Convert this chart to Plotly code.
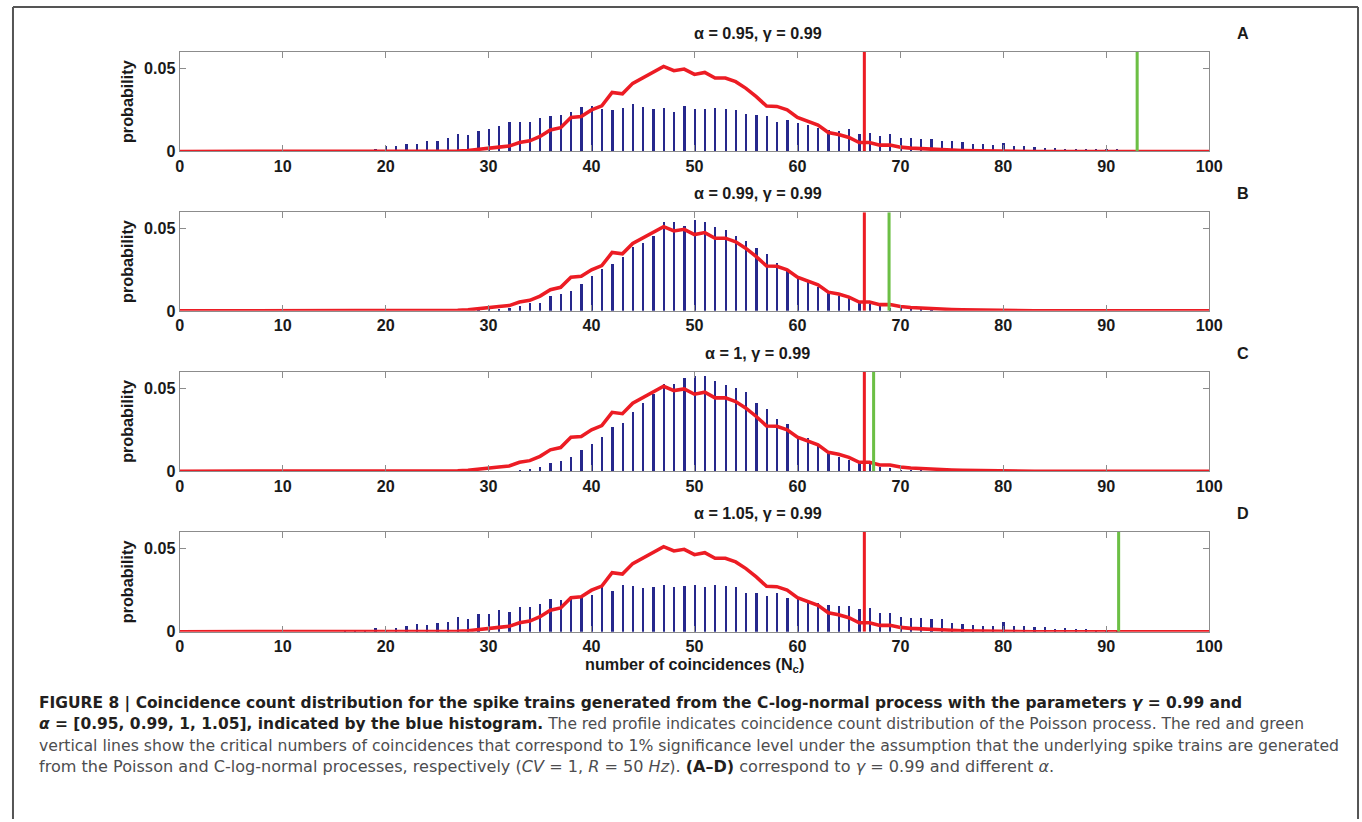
import plotly.graph_objects as go

# Reference canvas (all positions below are in reference pixels)
REF_W, REF_H = 1362, 822
# Figure size in CSS pixels (the captured page is slightly larger than the reference
# canvas and is scaled down to 1362x822, so the figure is drawn at that size)
W, H = 1378, 828
S = W / REF_W  # scale for fonts / line widths


def px(x):
    return x / REF_W


def py(y):
    return 1 - y / REF_H


# ---------------- data ----------------
nc_poisson = list(range(25, 83))
p_poisson = [0.0001, 0.0002, 0.0003, 0.0006, 0.0014, 0.002, 0.0026, 0.0032, 0.0054, 0.0064,
             0.009, 0.0129, 0.0143, 0.0205, 0.021, 0.025, 0.0275, 0.0355, 0.0347, 0.041,
             0.0446, 0.048, 0.0512, 0.0486, 0.0496, 0.0464, 0.0476, 0.0442, 0.0442, 0.042,
             0.038, 0.033, 0.0273, 0.0271, 0.025, 0.0205, 0.018, 0.0159, 0.0114, 0.0102,
             0.0084, 0.0054, 0.0054, 0.0038, 0.0038, 0.0026, 0.002, 0.0016, 0.0012, 0.0008,
             0.0008, 0.0006, 0.0005, 0.0004, 0.0003, 0.0002, 0.0002, 0.0001]

nc_a = list(range(17, 94))
p_a = [0.0003, 0.0005, 0.0018, 0.0034, 0.0032, 0.0046, 0.0046, 0.0062, 0.0066, 0.0084,
       0.0104, 0.01, 0.0124, 0.0135, 0.0155, 0.0177, 0.0179, 0.018, 0.0205, 0.0217,
       0.0223, 0.024, 0.0269, 0.0277, 0.0259, 0.025, 0.0265, 0.0289, 0.0267, 0.0259,
       0.0261, 0.0241, 0.0277, 0.0259, 0.0259, 0.0265, 0.0259, 0.0251, 0.0225, 0.0219,
       0.0213, 0.0181, 0.0189, 0.0171, 0.0161, 0.0145, 0.0133, 0.0122, 0.0135, 0.0108,
       0.0114, 0.0094, 0.0104, 0.0084, 0.0084, 0.0074, 0.0074, 0.0064, 0.0064, 0.0056,
       0.0046, 0.0044, 0.0042, 0.0054, 0.0034, 0.0034, 0.0028, 0.002, 0.002, 0.0018,
       0.0018, 0.0018, 0.0014, 0.0014, 0.0014, 0.001, 0.0005]

nc_b = list(range(29, 74))
p_b = [0.0002, 0.0004, 0.0012, 0.0014, 0.0028, 0.0044, 0.0048, 0.0088, 0.0104, 0.0118,
       0.016, 0.0209, 0.0251, 0.0283, 0.0329, 0.0388, 0.0414, 0.0456, 0.054, 0.054,
       0.0516, 0.0552, 0.054, 0.051, 0.0492, 0.0456, 0.0424, 0.038, 0.0345, 0.0289,
       0.0249, 0.0205, 0.0181, 0.0143, 0.0112, 0.009, 0.0074, 0.0054, 0.0038, 0.0028,
       0.0018, 0.0014, 0.001, 0.0006, 0.0003]

nc_c = list(range(31, 73))
p_c = [0.0001, 0.0002, 0.0006, 0.0014, 0.0028, 0.005, 0.0062, 0.009, 0.013, 0.0169,
       0.0209, 0.0269, 0.0293, 0.036, 0.0412, 0.0466, 0.0525, 0.053, 0.0565, 0.0575,
       0.0577, 0.0546, 0.0522, 0.0502, 0.0478, 0.0415, 0.0375, 0.0315, 0.0286, 0.0214,
       0.02, 0.0155, 0.0115, 0.009, 0.007, 0.0054, 0.0044, 0.003, 0.002, 0.0012,
       0.0008, 0.0004]

nc_d = list(range(16, 92))
p_d = [0.0004, 0.0004, 0.0005, 0.002, 0.0012, 0.0022, 0.0032, 0.0044, 0.004, 0.0054,
       0.006, 0.009, 0.0076, 0.0104, 0.0108, 0.0128, 0.012, 0.0146, 0.015, 0.0168,
       0.0194, 0.0192, 0.021, 0.021, 0.0222, 0.0266, 0.0246, 0.0278, 0.0272, 0.026,
       0.0266, 0.028, 0.027, 0.0276, 0.0282, 0.027, 0.028, 0.0276, 0.0266, 0.023,
       0.023, 0.0214, 0.0232, 0.0202, 0.0196, 0.0186, 0.017, 0.016, 0.0156, 0.0156,
       0.0136, 0.0142, 0.011, 0.011, 0.009, 0.0082, 0.0082, 0.0076, 0.0076, 0.0052,
       0.0044, 0.004, 0.0036, 0.0032, 0.0056, 0.0036, 0.0032, 0.0026, 0.0026, 0.0016,
       0.002, 0.0016, 0.0016, 0.0012, 0.0005, 0.0003]

panel_titles = ["α = 0.95, γ = 0.99", "α = 0.99, γ = 0.99", "α = 1, γ = 0.99", "α = 1.05, γ = 0.99"]
panel_letters = ["A", "B", "C", "D"]
panel_nc = [nc_a, nc_b, nc_c, nc_d]
panel_p = [p_a, p_b, p_c, p_d]
crit_poisson = 66.5
crit_lognormal = [93.0, 68.9, 67.4, 91.2]

x_ticks = [0, 10, 20, 30, 40, 50, 60, 70, 80, 90, 100]
y_ticks = [0, 0.05]
y_tick_labels = ["0", "0.05"]

# ---------------- layout geometry (reference pixels) ----------------
plot_left, plot_right = 175, 1206
panel_tops = [52, 213, 373, 534]
panel_bottoms = [152, 312, 473, 634]

FONT = "Liberation Sans"
CAP_FONT = "DejaVu Sans"
BAR_COLOR = "#26288c"
RED = "#ec1c24"
GREEN = "#6cbf45"
FRAME = "#8c8c8c"
TXT = "#1a1a1a"
FS = 16 * S

fig = go.Figure()
layout = dict(
    width=W, height=H,
    margin=dict(l=0, r=0, t=0, b=0),
    paper_bgcolor="white", plot_bgcolor="white",
    showlegend=False,
    bargap=0,
)

annotations = []
shapes = []

for i in range(4):
    xa = "x" if i == 0 else f"x{i+1}"
    ya = "y" if i == 0 else f"y{i+1}"
    xkey = "xaxis" if i == 0 else f"xaxis{i+1}"
    ykey = "yaxis" if i == 0 else f"yaxis{i+1}"

    fig.add_trace(go.Bar(x=panel_nc[i], y=panel_p[i], width=0.22,
                         marker=dict(color=BAR_COLOR, line=dict(width=0)),
                         xaxis=xa, yaxis=ya))
    fig.add_trace(go.Scatter(x=[0, 24] + nc_poisson + [83, 100],
                             y=[0, 0] + p_poisson + [0, 0],
                             mode="lines", line=dict(color=RED, width=3.5 * S),
                             xaxis=xa, yaxis=ya))
    fig.add_trace(go.Scatter(x=[crit_poisson, crit_poisson], y=[0, 0.06], mode="lines",
                             line=dict(color=RED, width=3 * S), xaxis=xa, yaxis=ya))
    fig.add_trace(go.Scatter(x=[crit_lognormal[i], crit_lognormal[i]], y=[0, 0.06], mode="lines",
                             line=dict(color=GREEN, width=3 * S), xaxis=xa, yaxis=ya))

    layout[xkey] = dict(
        domain=[px(plot_left), px(plot_right)],
        anchor=ya, range=[0, 100],
        tickmode="array", tickvals=x_ticks, ticktext=[str(t) for t in x_ticks],
        ticks="inside", ticklen=6, tickcolor=FRAME, tickwidth=1,
        showline=True, linecolor=FRAME, linewidth=1, mirror="ticks",
        showgrid=False, zeroline=False,
        tickfont=dict(family=FONT, size=FS, color=TXT, weight="bold"),
    )
    layout[ykey] = dict(
        domain=[py(panel_bottoms[i]), py(panel_tops[i])],
        anchor=xa, range=[0, 0.06],
        tickmode="array", tickvals=y_ticks, ticktext=y_tick_labels,
        ticks="inside", ticklen=6, tickcolor=FRAME, tickwidth=1,
        showline=True, linecolor=FRAME, linewidth=1, mirror="ticks",
        showgrid=False, zeroline=False,
        tickfont=dict(family=FONT, size=FS, color=TXT, weight="bold"),
        title=dict(text="probability", standoff=6,
                   font=dict(family=FONT, size=FS, color=TXT, weight="bold")),
    )

    title_y = panel_tops[i] - 19
    annotations.append(dict(text=panel_titles[i], xref="paper", yref="paper",
                            x=px(754), y=py(title_y), xanchor="center", yanchor="middle",
                            showarrow=False,
                            font=dict(family=FONT, size=FS, color=TXT, weight="bold")))
    annotations.append(dict(text=panel_letters[i], xref="paper", yref="paper",
                            x=px(1240), y=py(title_y), xanchor="center", yanchor="middle",
                            showarrow=False,
                            font=dict(family=FONT, size=FS, color=TXT, weight="bold")))

# x axis title
annotations.append(dict(text="number of coincidences (N<sub>c</sub>)", xref="paper", yref="paper",
                        x=px((plot_left + plot_right) / 2), y=py(667),
                        xanchor="center", yanchor="middle", showarrow=False,
                        font=dict(family=FONT, size=FS, color=TXT, weight="bold")))

# caption
BOLD_C = "#231f20"
REG_C = "#4d4d4f"
caption_lines = [
    f"<span style='color:{BOLD_C}'><b>FIGURE 8 | Coincidence count distribution for the spike trains generated from the C-log-normal process with the parameters <i>γ</i> = 0.99 and</b></span>",
    f"<span style='color:{BOLD_C}'><b><i>α</i> = [0.95, 0.99, 1, 1.05], indicated by the blue histogram.</b></span> The red profile indicates coincidence count distribution of the Poisson process. The red and green",
    "vertical lines show the critical numbers of coincidences that correspond to 1% significance level under the assumption that the underlying spike trains are generated",
    f"from the Poisson and C-log-normal processes, respectively (<i>CV</i> = 1, <i>R</i> = 50 <i>Hz</i>). <span style='color:{BOLD_C}'><b>(A–D)</b></span> correspond to <i>γ</i> = 0.99 and different <i>α</i>.",
]
caption_y = [706, 727, 748, 769]
caption_size = [15.3, 15.3, 15.5, 15.9]
for txt, yy, sz in zip(caption_lines, caption_y, caption_size):
    annotations.append(dict(text=txt, xref="paper", yref="paper", x=px(32), y=py(yy),
                            xanchor="left", yanchor="middle", showarrow=False, align="left",
                            font=dict(family=CAP_FONT, size=sz * S, color=REG_C)))

# outer frame (left, top, right)
fl, ft, fr = 8, 7, 1355
for x0, y0, x1, y1 in [(fl, ft, fl, REF_H), (fl, ft, fr, ft), (fr, ft, fr, REF_H)]:
    shapes.append(dict(type="line", xref="paper", yref="paper",
                       x0=px(x0), y0=py(y0), x1=px(x1), y1=py(y1),
                       line=dict(color="#555555", width=2)))

layout["annotations"] = annotations
layout["shapes"] = shapes
fig.update_layout(**layout)

fig.write_html("out.html")
